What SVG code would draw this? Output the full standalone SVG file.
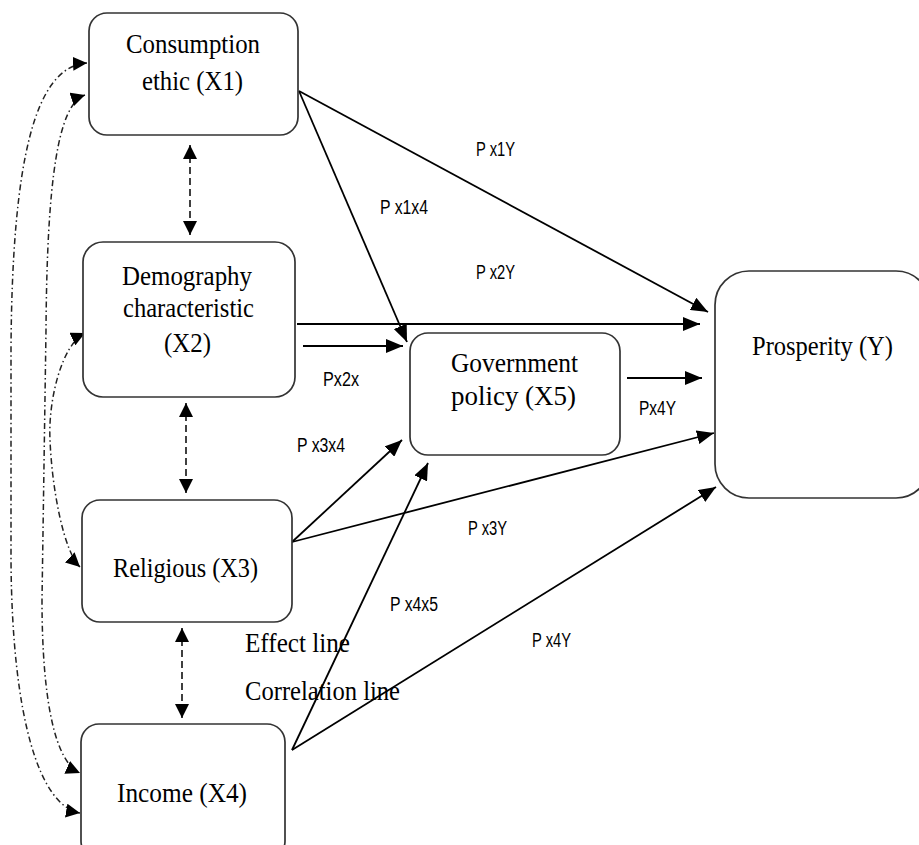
<svg xmlns="http://www.w3.org/2000/svg" width="919" height="845" viewBox="0 0 919 845">
<style>
.box{fill:#fff;stroke:#333;stroke-width:1.7}
.t{font-family:"Liberation Serif","Times New Roman",serif;font-size:27px;fill:#000}
.l{font-family:"Liberation Sans Narrow","Liberation Sans",Arial,sans-serif;font-size:20px;fill:#000}
.arr{fill:none;stroke:#000;stroke-width:1.8;marker-end:url(#ah)}
.cor{fill:none;stroke:#111;stroke-width:1.6;stroke-dasharray:7 4;marker-start:url(#sh);marker-end:url(#sh)}
.cur{fill:none;stroke:#222;stroke-width:1.5;stroke-dasharray:6 3 1.5 3;marker-start:url(#ch);marker-end:url(#ch)}
</style>
<defs>
<marker id="ah" markerUnits="userSpaceOnUse" markerWidth="18" markerHeight="14" refX="17" refY="7" orient="auto"><path d="M0,0 L17,7 L0,14 Z" fill="#000"/></marker>
<marker id="sh" markerUnits="userSpaceOnUse" markerWidth="15" markerHeight="14" refX="14" refY="7" orient="auto-start-reverse"><path d="M0,0 L14,7 L0,14 Z" fill="#000"/></marker>
<marker id="ch" markerUnits="userSpaceOnUse" markerWidth="15" markerHeight="14" refX="14" refY="7" orient="auto-start-reverse"><path d="M0,0 L14,7 L0,14 Z" fill="#000"/></marker>
</defs>
<rect width="919" height="845" fill="#fff"/>
<g id="connectors">
<line class="arr" x1="299" y1="91" x2="407" y2="342"/>
<line class="arr" x1="299" y1="91" x2="708" y2="312"/>
<line class="arr" x1="297" y1="324" x2="700" y2="324"/>
<line class="arr" x1="303" y1="346" x2="403" y2="346"/>
<line class="arr" x1="627" y1="378" x2="702" y2="378"/>
<line class="arr" x1="292" y1="542" x2="402" y2="440"/>
<line class="arr" x1="292" y1="542" x2="714" y2="433"/>
<line class="arr" x1="292" y1="750" x2="428" y2="463"/>
<line class="arr" x1="292" y1="750" x2="716" y2="487"/>
<line class="cor" x1="190" y1="145" x2="190" y2="235"/>
<line class="cor" x1="186" y1="403" x2="186" y2="493"/>
<line class="cor" x1="182" y1="628" x2="182" y2="718"/>
<path class="cur" d="M87,63 C35,66 12,160 11,350 L11,560 C12,720 40,806 80,813"/>
<path class="cur" d="M85,95 C58,104 47,180 46,330 L42,600 C42,700 55,762 80,773"/>
<path class="cur" d="M85,333 C62,344 48,400 50,440 C52,490 64,552 80,567"/>
</g>
<g id="X1">
<rect class="box" x="89" y="13" width="209" height="122" rx="18"/>
<text class="t" x="126" y="53" textLength="134" lengthAdjust="spacingAndGlyphs">Consumption</text>
<text class="t" x="142" y="90" textLength="101" lengthAdjust="spacingAndGlyphs">ethic (X1)</text>
</g>
<g id="X2">
<rect class="box" x="83" y="242" width="212" height="155" rx="20"/>
<text class="t" x="122" y="285" textLength="130" lengthAdjust="spacingAndGlyphs">Demography</text>
<text class="t" x="123" y="317" textLength="131" lengthAdjust="spacingAndGlyphs">characteristic</text>
<text class="t" x="164" y="352" textLength="47" lengthAdjust="spacingAndGlyphs">(X2)</text>
</g>
<g id="X3">
<rect class="box" x="82" y="500" width="210" height="122" rx="18"/>
<text class="t" x="113" y="577" textLength="145" lengthAdjust="spacingAndGlyphs">Religious (X3)</text>
</g>
<g id="X4">
<rect class="box" x="81" y="724" width="204" height="135" rx="18"/>
<text class="t" x="117" y="802" textLength="130" lengthAdjust="spacingAndGlyphs">Income (X4)</text>
</g>
<g id="X5">
<rect class="box" x="410" y="333" width="210" height="122" rx="18"/>
<text class="t" x="451" y="372" textLength="127" lengthAdjust="spacingAndGlyphs">Government</text>
<text class="t" x="451" y="405" textLength="125" lengthAdjust="spacingAndGlyphs">policy  (X5)</text>
</g>
<g id="Y">
<rect class="box" x="715" y="271" width="215" height="227" rx="34"/>
<text class="t" x="752" y="355" textLength="141" lengthAdjust="spacingAndGlyphs">Prosperity (Y)</text>
</g>
<g id="labels">
<text class="l" x="476" y="156" textLength="39" lengthAdjust="spacingAndGlyphs">P x1Y</text>
<text class="l" x="380" y="214" textLength="48" lengthAdjust="spacingAndGlyphs">P x1x4</text>
<text class="l" x="476" y="279" textLength="39" lengthAdjust="spacingAndGlyphs">P x2Y</text>
<text class="l" x="323" y="386" textLength="36" lengthAdjust="spacingAndGlyphs">Px2x</text>
<text class="l" x="639" y="415" textLength="37" lengthAdjust="spacingAndGlyphs">Px4Y</text>
<text class="l" x="297" y="452" textLength="48" lengthAdjust="spacingAndGlyphs">P x3x4</text>
<text class="l" x="468" y="535" textLength="39" lengthAdjust="spacingAndGlyphs">P x3Y</text>
<text class="l" x="390" y="611" textLength="48" lengthAdjust="spacingAndGlyphs">P x4x5</text>
<text class="l" x="532" y="647" textLength="39" lengthAdjust="spacingAndGlyphs">P x4Y</text>
<text class="t" x="245" y="652" textLength="105" lengthAdjust="spacingAndGlyphs">Effect line</text>
<text class="t" x="245" y="700" textLength="155" lengthAdjust="spacingAndGlyphs">Correlation line</text>
</g>
</svg>
